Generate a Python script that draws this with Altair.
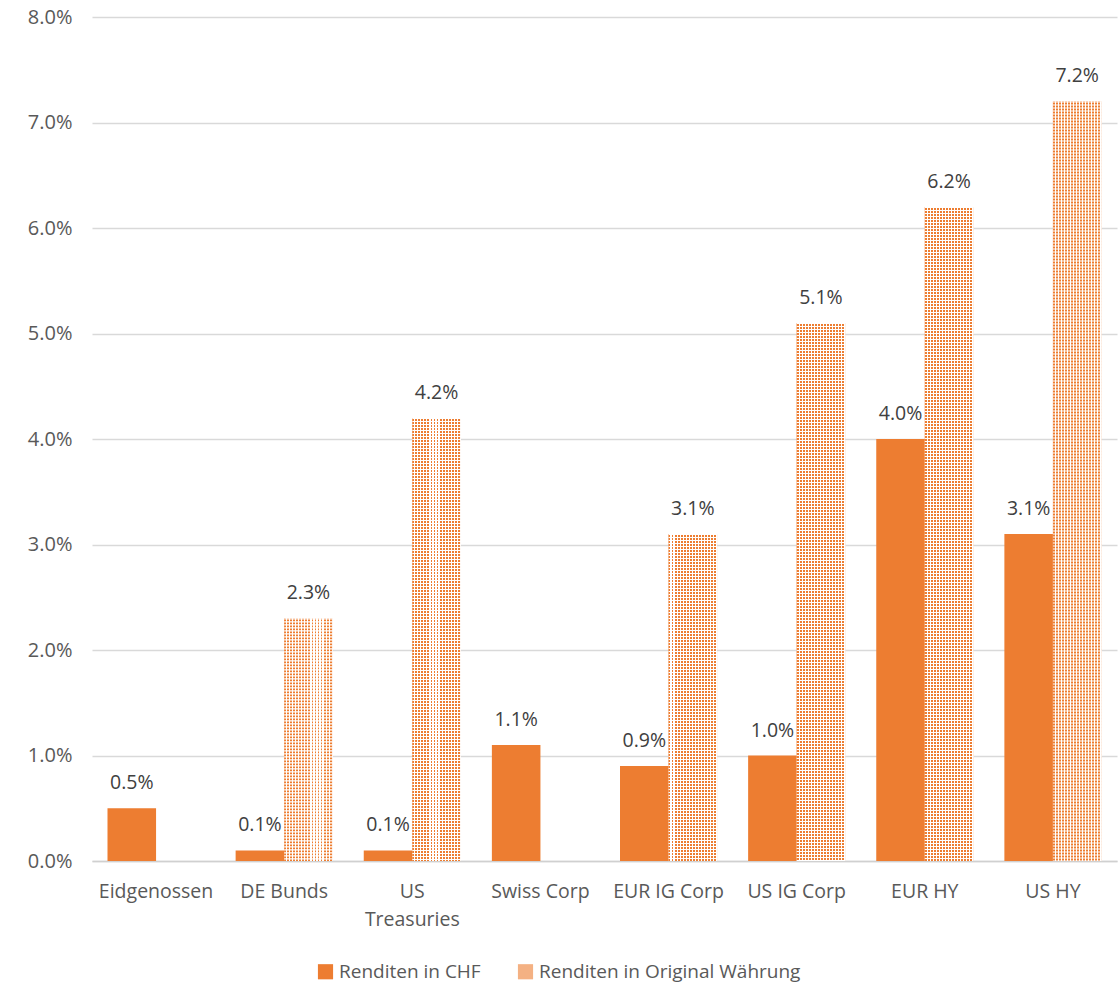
import altair as alt
import pandas as pd

categories = ["Eidgenossen", "DE Bunds", "US Treasuries", "Swiss Corp",
              "EUR IG Corp", "US IG Corp", "EUR HY", "US HY"]
chf_values = [0.5, 0.1, 0.1, 1.1, 0.9, 1.0, 4.0, 3.1]
orig_values = [None, 2.3, 4.2, None, 3.1, 5.1, 6.2, 7.2]
series_names = ["Renditen in CHF", "Renditen in Original Währung"]

rows = []
for c, a, b in zip(categories, chf_values, orig_values):
    rows.append({"cat": c, "series": series_names[0], "val": a})
    if b is not None:
        rows.append({"cat": c, "series": series_names[1], "val": b})
df = pd.DataFrame(rows)

ORANGE = "#ED7D31"
FONT = "Open Sans"
W, H = 1025, 844
PAD_IN = 0.242
BAR_W = W / 8 * (1 - PAD_IN) / 2

# vertical stripes (columns of the dot pattern)
n = 16
stops = []
for i in range(n):
    s, m, e = i / n, (i + 0.62) / n, (i + 1) / n
    stops += [{"offset": s, "color": ORANGE}, {"offset": m, "color": ORANGE},
              {"offset": m, "color": "#ffffff"}, {"offset": e, "color": "#ffffff"}]
stripes = {"gradient": "linear", "x1": 0, "x2": 1, "y1": 0, "y2": 0, "stops": stops}

x = alt.X("cat:N", sort=categories, title=None,
          scale=alt.Scale(paddingInner=PAD_IN, paddingOuter=PAD_IN / 2),
          axis=alt.Axis(labelAngle=0, labelFont=FONT, labelFontSize=19.5, labelColor="#595959",
                        domainColor="#d0d0d0", domainWidth=1.5, ticks=False, labelPadding=21,
                        labelLimit=200, labelLineHeight=28, labelBaseline="top",
                        labelExpr="datum.value == 'US Treasuries' ? ['US', 'Treasuries'] : datum.value"))
xo = alt.XOffset("series:N", sort=series_names, scale=alt.Scale(domain=series_names))
y = alt.Y("val:Q", title=None,
          scale=alt.Scale(domain=[0, 8], nice=False),
          axis=alt.Axis(values=[0, 1, 2, 3, 4, 5, 6, 7, 8], labelExpr="format(datum.value, '.1f') + '%'",
                        labelFont=FONT, labelFontSize=20, labelColor="#595959", labelPadding=20,
                        domain=False, ticks=False, gridColor="#d9d9d9", gridWidth=1.3))
y2 = alt.Y2(datum=0)

base = alt.Chart(df)

bars = base.mark_bar().encode(
    x=x, xOffset=xo, y=y,
    color=alt.Color("series:N", sort=series_names,
                    scale=alt.Scale(domain=series_names, range=[ORANGE, "#F4B183"]),
                    legend=alt.Legend(title=None, orient="none", direction="horizontal",
                                      legendX=224, legendY=945, symbolType="square",
                                      symbolSize=230, symbolStrokeWidth=0,
                                      labelFont=FONT, labelFontSize=19, labelColor="#595959",
                                      columnPadding=35, labelOffset=4, labelLimit=400))
)

orig_only = base.transform_filter(alt.datum.series == series_names[1])

textured = orig_only.mark_bar(fill=stripes, stroke=None).encode(x=x, xOffset=xo, y=y)

# white horizontal gaps between rows of dots
rows_gap = orig_only.mark_rule(color="white", strokeWidth=BAR_W, strokeDash=[1.1, 1.9],
                               strokeCap="butt").encode(x=x, xOffset=xo, y=y, y2=y2)

labels = base.transform_calculate(lab="format(datum.val, '.1f') + '%'").mark_text(
    font=FONT, fontSize=19.5, color="#404040", dy=-25
).encode(x=x, xOffset=xo, y=y, text="lab:N")

chart = alt.layer(bars, textured, rows_gap, labels).properties(
    width=W, height=H,
    background="white",
    autosize=alt.AutoSizeParams(type="none"),
    padding={"left": 92, "top": 17, "right": 2, "bottom": 124},
).configure_view(stroke=None)

chart.save("out.html", embed_options={"renderer": "svg", "actions": False})
